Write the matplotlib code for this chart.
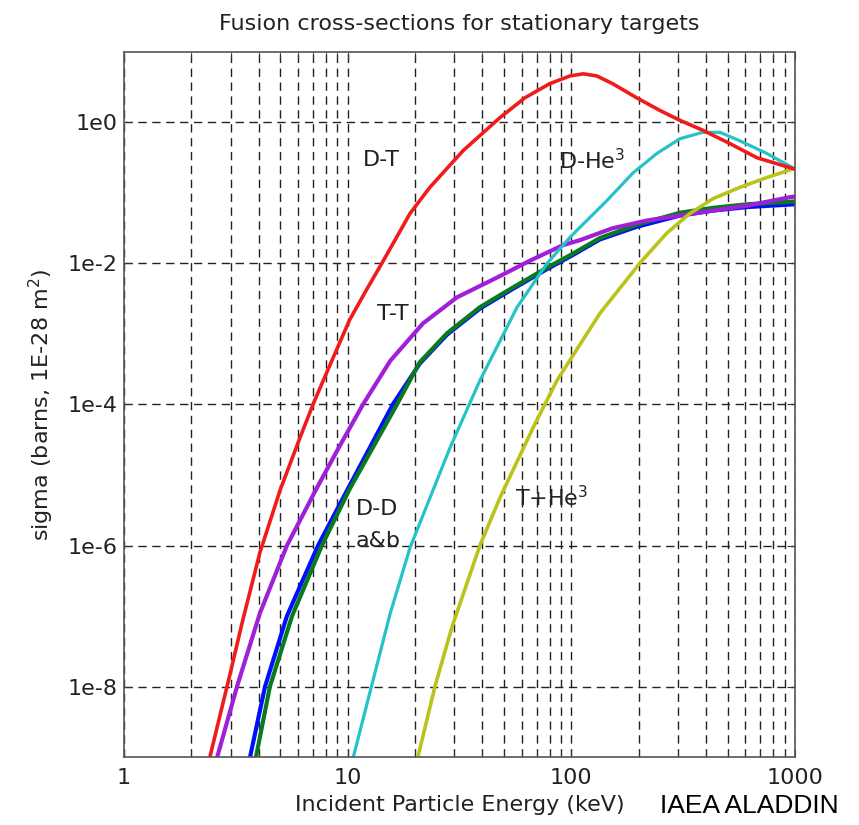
import numpy as np
import matplotlib.pyplot as plt
from matplotlib.ticker import FixedLocator, FixedFormatter, NullFormatter

# energies in keV, cross sections as log10(barns)
E_dt = [2.42, 2.98, 3.40, 4.05, 4.98, 6.12, 7.1, 8.57, 10.2, 12.2, 14.2, 16.6, 19.0, 23.3, 32.8,
        48, 62, 80, 98.6, 113, 130, 153, 196, 249, 306, 387, 512, 676, 948, 1000]
S_dt = [-9.0, -7.82, -7.05, -6.1, -5.22, -4.47, -3.95, -3.35, -2.8, -2.36, -2.0, -1.62, -1.29,
        -0.92, -0.40, 0.07, 0.35, 0.55, 0.66, 0.69, 0.66, 0.55, 0.35, 0.17, 0.03, -0.11, -0.30,
        -0.50, -0.64, -0.66]

E_dhe3 = [10.5, 15.5, 19.0, 28.7, 39.0, 57.2, 77.8, 98.6, 109, 144, 188, 241, 306, 387, 462,
          567, 749, 1000]
S_dhe3 = [-9.05, -6.96, -6.03, -4.61, -3.66, -2.62, -2.0, -1.63, -1.49, -1.11, -0.72, -0.44,
          -0.23, -0.14, -0.14, -0.26, -0.44, -0.66]

E_the3 = [20.6, 24.6, 29.3, 39.0, 48.0, 67.4, 86.2, 134, 203, 267, 339, 430, 567, 749, 1000]
S_the3 = [-9.0, -7.99, -7.15, -6.0, -5.32, -4.33, -3.66, -2.71, -1.99, -1.57, -1.29, -1.08, -0.92,
          -0.78, -0.65]

E_tt = [2.61, 3.2, 4.05, 5.35, 7.29, 9.24, 11.7, 15.5, 21.7, 30.8, 46.5, 65.3, 91.7, 109, 153,
        218, 306, 430, 610, 948, 1000]
S_tt = [-9.0, -8.0, -6.96, -6.0, -5.18, -4.58, -4.0, -3.38, -2.85, -2.48, -2.2, -1.96, -1.74,
        -1.67, -1.50, -1.39, -1.32, -1.25, -1.18, -1.06, -1.05]

E_dda = [3.89, 4.49, 5.64, 7.67, 10.2, 16.6, 21.0, 27.8, 39.0, 54.8, 77.8, 101.6, 134, 196,
         306, 430, 610, 1000]
S_dda = [-9.0, -8.0, -7.0, -6.0, -5.2, -4.0, -3.40, -2.99, -2.62, -2.34, -2.06, -1.86, -1.64,
         -1.45, -1.28, -1.21, -1.16, -1.12]

E_ddb = [3.66, 4.27, 5.35, 7.37, 9.93, 15.9, 21.0, 27.8, 39.0, 54.8, 77.8, 101.6, 134, 196,
         306, 430, 610, 1000]
S_ddb = [-9.0, -8.0, -7.0, -6.0, -5.22, -4.0, -3.42, -3.01, -2.64, -2.36, -2.08, -1.88, -1.66,
         -1.48, -1.32, -1.25, -1.2, -1.16]

y_ticks = [1e-8, 1e-6, 1e-4, 1e-2, 1e0]
y_labels = ['1e-8', '1e-6', '1e-4', '1e-2', '1e0']
x_ticks = [1, 10, 100, 1000]
x_labels = ['1', '10', '100', '1000']

plt.rcParams['font.family'] = ['DejaVu Sans']

fig = plt.figure(figsize=(8.59, 8.25), dpi=100)
ax = fig.add_axes([0.1444, 0.0824, 0.7811, 0.8546])
ax.set_xscale('log')
ax.set_yscale('log')

curves = [
    (E_ddb, S_ddb, '#0010ff', 3.0),
    (E_dda, S_dda, '#0a7a1e', 3.0),
    (E_tt, S_tt, '#a020d8', 3.0),
    (E_dhe3, S_dhe3, '#25c3c8', 2.3),
    (E_the3, S_the3, '#bcc21c', 2.6),
    (E_dt, S_dt, '#f01c1c', 2.6),
]
for e, s, c, lw in curves:
    ax.plot(e, 10.0 ** np.array(s), color=c, lw=lw, solid_joinstyle='round')

ax.set_xlim(1, 1000)
ax.set_ylim(1e-9, 10)

ax.xaxis.set_major_locator(FixedLocator(x_ticks))
ax.xaxis.set_major_formatter(FixedFormatter(x_labels))
minor_x = [m * d for d in (1, 10, 100) for m in range(2, 10)]
ax.xaxis.set_minor_locator(FixedLocator(minor_x))
ax.xaxis.set_minor_formatter(NullFormatter())
ax.yaxis.set_major_locator(FixedLocator(y_ticks))
ax.yaxis.set_major_formatter(FixedFormatter(y_labels))
ax.yaxis.set_minor_locator(FixedLocator([]))

ax.grid(True, which='major', axis='both', color='#222222', ls=(0, (6, 4)), lw=1.0)
ax.grid(True, which='minor', axis='x', color='#222222', ls=(0, (6, 4)), lw=1.0)
ax.tick_params(which='both', direction='in', top=True, right=True, labelsize=16,
               color='#333333', labelcolor='#222222')
ax.tick_params(axis='x', pad=8)
ax.tick_params(axis='y', pad=5)
ax.tick_params(which='major', length=6)
ax.tick_params(which='minor', length=4)
for sp in ax.spines.values():
    sp.set_color('#555555')
    sp.set_linewidth(1.2)

ax.set_title('Fusion cross-sections for stationary targets', fontsize=16, pad=16, color='#222222')
ax.set_xlabel('Incident Particle Energy (keV)', fontsize=16, labelpad=5, color='#222222')
ax.set_ylabel('sigma (barns, 1E-28 m$^2$)', fontsize=16, labelpad=8, color='#222222')

# curve labels
lab = dict(fontsize=16, ha='left', va='center', color='#222222')
ax.text(11.7, 0.29, 'D-T', **lab)
ax.text(88, 0.29, 'D-He$^3$', **lab)
ax.text(13.5, 1.95e-3, 'T-T', **lab)
ax.text(10.9, 3.3e-6, 'D-D', **lab)
ax.text(10.9, 1.15e-6, 'a&b', **lab)
ax.text(56, 4.8e-6, 'T+He$^3$', **lab)

fig.text(0.976, 0.023, 'IAEA ALADDIN', fontsize=19, ha='right', va='center',
         family='Liberation Sans')

fig.savefig('out.png', dpi=100)
